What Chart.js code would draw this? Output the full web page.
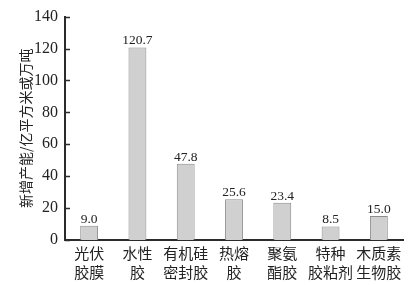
<!DOCTYPE html>
<html>
<head>
<meta charset="utf-8">
<script src="https://cdn.jsdelivr.net/npm/chart.js@4/dist/chart.umd.min.js"></script>
<style>
  html, body { margin: 0; padding: 0; background: #fff; }
  #wrap { width: 418px; height: 285px; }
</style>
</head>
<body>
<div id="wrap"><canvas id="c" width="418" height="285"></canvas></div>
<script>
// Adhesive product categories (two-line labels)
const categories = [
  ['光伏', '胶膜'],
  ['水性', '胶'],
  ['有机硅', '密封胶'],
  ['热熔', '胶'],
  ['聚氨', '酯胶'],
  ['特种', '胶粘剂'],
  ['木质素', '生物胶']
];
// New capacity values
const capacity = [9.0, 120.7, 47.8, 25.6, 23.4, 8.5, 15.0];
const yTicks = [0, 20, 40, 60, 80, 100, 120, 140];
const yTitle = '新增产能/亿平方米或万吨';

const CJK = '"Noto Sans CJK SC", "Noto Sans", sans-serif';
const SERIF = '"Liberation Serif", "DejaVu Serif", serif';

// Short tick marks that point into the plot area
const innerTicks = {
  id: 'innerTicks',
  afterDraw(chart) {
    const y = chart.scales.y;
    const ctx = chart.ctx;
    ctx.save();
    ctx.strokeStyle = '#2b2b2b';
    ctx.lineWidth = 1.5;
    y.ticks.forEach(t => {
      const py = Math.round(y.getPixelForValue(t.value)) + 0.5;
      ctx.beginPath();
      ctx.moveTo(y.right, py);
      ctx.lineTo(y.right + 5, py);
      ctx.stroke();
    });
    ctx.restore();
  }
};

// Value labels above each bar
const valueLabels = {
  id: 'valueLabels',
  afterDatasetsDraw(chart) {
    const ctx = chart.ctx;
    const meta = chart.getDatasetMeta(0);
    const data = chart.data.datasets[0].data;
    ctx.save();
    ctx.font = '13.5px ' + SERIF;
    ctx.fillStyle = '#222';
    ctx.textAlign = 'center';
    ctx.textBaseline = 'alphabetic';
    meta.data.forEach((bar, i) => {
      ctx.fillText(data[i].toFixed(1), bar.x, bar.y - 3);
    });
    ctx.restore();
  }
};

new Chart(document.getElementById('c'), {
  type: 'bar',
  data: {
    labels: categories,
    datasets: [{
      data: capacity,
      backgroundColor: '#d0d0d0',
      borderColor: '#8c8c8c',
      borderWidth: 1,
      barPercentage: 0.37,
      categoryPercentage: 1.0
    }]
  },
  options: {
    responsive: false,
    animation: false,
    layout: { padding: { top: 15, right: 15, left: 0, bottom: 0 } },
    plugins: {
      legend: { display: false },
      tooltip: { enabled: false }
    },
    scales: {
      x: {
        grid: { display: false, drawTicks: false },
        border: { display: true, color: '#2b2b2b', width: 2 },
        ticks: {
          color: '#222',
          font: { family: CJK, size: 15, lineHeight: 1.27 },
          padding: 4,
          maxRotation: 0,
          autoSkip: false
        },
        afterFit(scale) { scale.height = 45; }
      },
      y: {
        min: 0,
        max: 140,
        afterBuildTicks(scale) { scale.ticks = yTicks.map(v => ({ value: v })); },
        grid: { display: false, drawTicks: false },
        border: { display: true, color: '#2b2b2b', width: 2 },
        ticks: {
          color: '#222',
          font: { family: SERIF, size: 16 },
          padding: 7
        },
        title: {
          display: true,
          text: yTitle,
          color: '#222',
          font: { family: CJK, size: 14 },
          padding: { top: 17, bottom: 0 }
        },
        afterFit(scale) { scale.width = 65; }
      }
    }
  },
  plugins: [innerTicks, valueLabels]
});
</script>
</body>
</html>
